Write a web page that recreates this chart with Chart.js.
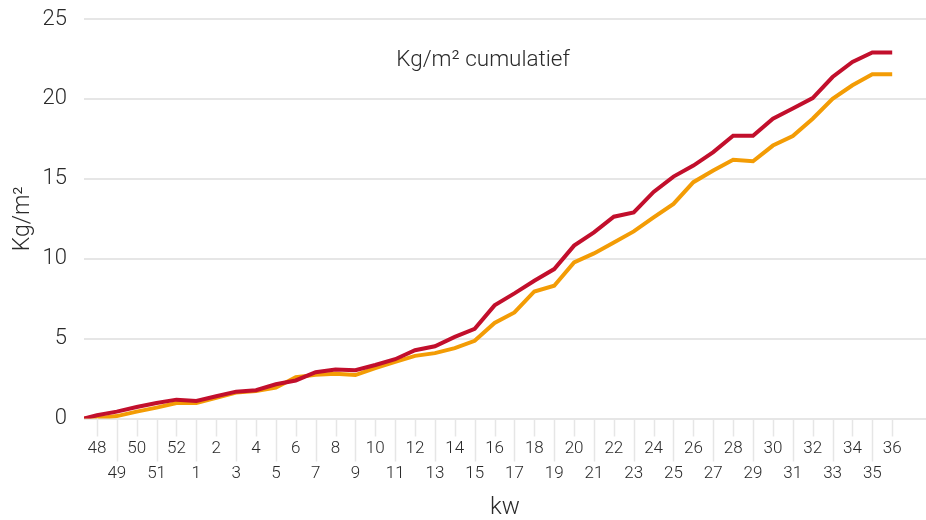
<!DOCTYPE html>
<html lang="nl">
  <head>
    <meta charset="UTF-8" />
    <title>Kg/m² cumulatief</title>
    <script src="https://cdn.jsdelivr.net/npm/chart.js"></script>
    <style>
      * {
        margin: 0;
        padding: 0;
        box-sizing: border-box;
      }
      body {
        background: #fff;
        width: 926px;
        height: 520px;
        overflow: hidden;
      }
      #wrap {
        position: relative;
        width: 926px;
        height: 520px;
      }
    </style>
  </head>
  <body>
    <div id="wrap"><canvas id="kgChart"></canvas></div>

    <script>
      // kalenderweken (kw)
      const weeks = [
        "48", "49", "50", "51", "52", "1", "2", "3", "4", "5", "6", "7", "8", "9",
        "10", "11", "12", "13", "14", "15", "16", "17", "18", "19", "20", "21",
        "22", "23", "24", "25", "26", "27", "28", "29", "30", "31", "32", "33",
        "34", "35", "36",
      ];
      const redSeries = [
        0.2, 0.43, 0.72, 0.97, 1.18, 1.1, 1.39, 1.68, 1.77, 2.14, 2.38, 2.9, 3.07,
        3.02, 3.35, 3.71, 4.27, 4.52, 5.11, 5.61, 7.08, 7.83, 8.62, 9.35, 10.82,
        11.65, 12.63, 12.9, 14.18, 15.14, 15.83, 16.67, 17.69, 17.69, 18.76,
        19.4, 20.05, 21.37, 22.31, 22.9, 22.9,
      ];
      const orangeSeries = [
        0.0, 0.15, 0.43, 0.68, 0.97, 0.97, 1.3, 1.62, 1.72, 1.93, 2.58, 2.73, 2.8,
        2.72, 3.15, 3.54, 3.92, 4.09, 4.4, 4.86, 5.98, 6.64, 7.95, 8.31, 9.77,
        10.33, 11.02, 11.71, 12.59, 13.43, 14.79, 15.52, 16.19, 16.1, 17.08,
        17.68, 18.76, 20.01, 20.85, 21.54, 21.54,
      ];
      const yTicks = [0, 5, 10, 15, 20, 25];

      const xMin = -0.65;
      const xMax = 41.7;
      const fontFamily = "Roboto, 'Liberation Sans', Arial, sans-serif";
      const textColor = "#2a2a2a";
      const gridColor = "#e6e6e6";

      // lines start at the axis origin, then one point per week
      function toPoints(values) {
        return [{ x: xMin, y: 0 }].concat(values.map((v, i) => ({ x: i, y: v })));
      }

      // title inside the plot + staggered tick marks under the x axis
      const extras = {
        id: "extras",
        afterDraw(chart) {
          const { ctx, chartArea } = chart;
          const xs = chart.scales.x;
          ctx.save();
          ctx.strokeStyle = gridColor;
          ctx.lineWidth = 1.5;
          weeks.forEach((w, i) => {
            const px = Math.round(xs.getPixelForValue(i)) + 0.5;
            ctx.beginPath();
            ctx.moveTo(px, chartArea.bottom);
            ctx.lineTo(px, chartArea.bottom + (i % 2 ? 43 : 18));
            ctx.stroke();
          });
          ctx.fillStyle = textColor;
          ctx.font = "300 22.5px " + fontFamily;
          ctx.textAlign = "center";
          ctx.textBaseline = "middle";
          ctx.fillText(
            "Kg/m\u00B2 cumulatief",
            chartArea.left + chartArea.width * 0.474,
            chartArea.top + 41
          );
          ctx.restore();
        },
      };

      const ctx = document.getElementById("kgChart").getContext("2d");
      new Chart(ctx, {
        type: "line",
        data: {
          datasets: [
            {
              label: "Kg/m\u00B2 (1)",
              data: toPoints(redSeries),
              borderColor: "#c20f2c",
              borderWidth: 4,
              pointRadius: 0,
              tension: 0,
            },
            {
              label: "Kg/m\u00B2 (2)",
              data: toPoints(orangeSeries),
              borderColor: "#f39c05",
              borderWidth: 4,
              pointRadius: 0,
              tension: 0,
            },
          ],
        },
        options: {
          responsive: true,
          maintainAspectRatio: false,
          animation: false,
          layout: { padding: { top: 19, right: 0, bottom: 0, left: 0 } },
          plugins: {
            legend: { display: false },
            tooltip: { enabled: false },
          },
          scales: {
            x: {
              type: "linear",
              min: xMin,
              max: xMax,
              afterBuildTicks: (scale) => {
                scale.ticks = weeks.map((w, i) => ({ value: i }));
              },
              grid: {
                display: true,
                drawOnChartArea: false,
                drawTicks: true,
                tickLength: 18,
                color: "rgba(0,0,0,0)",
              },
              border: { display: false },
              ticks: {
                autoSkip: false,
                maxRotation: 0,
                padding: 0,
                color: textColor,
                font: { family: fontFamily, size: 17, weight: "300", lineHeight: 25 / 17 },
                callback: (value) => {
                  const w = weeks[value];
                  return value % 2 ? ["", w] : [w, ""];
                },
              },
              title: {
                display: true,
                text: "kw",
                color: textColor,
                padding: { top: 9.5, bottom: 0 },
                font: { family: fontFamily, size: 24, weight: "300", lineHeight: 1 },
              },
            },
            y: {
              min: 0,
              max: 25,
              afterBuildTicks: (scale) => {
                scale.ticks = yTicks.map((v) => ({ value: v }));
              },
              afterFit: (scale) => {
                scale.width = 84;
              },
              grid: {
                color: gridColor,
                lineWidth: 2,
                drawTicks: true,
                tickLength: 17,
                tickColor: "rgba(0,0,0,0)",
              },
              border: { display: false },
              ticks: {
                padding: 0,
                color: textColor,
                font: { family: fontFamily, size: 22, weight: "300" },
              },
              title: {
                display: true,
                text: "Kg/m\u00B2",
                color: textColor,
                padding: { top: 9, bottom: 0 },
                font: { family: fontFamily, size: 23, weight: "300" },
              },
            },
          },
        },
        plugins: [extras],
      });
    </script>
  </body>
</html>
